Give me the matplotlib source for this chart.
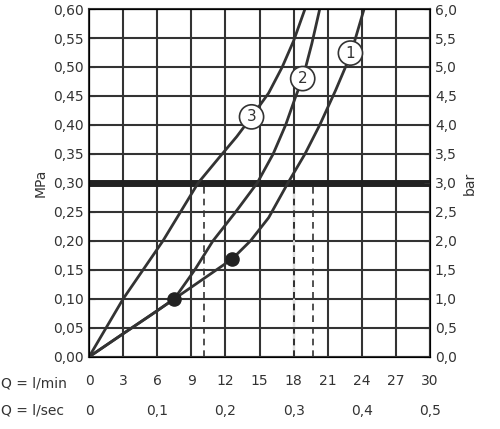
import matplotlib
matplotlib.use("Agg")
import matplotlib.pyplot as plt

# curve points (Q l/min, P MPa)
q1 = [0, 3, 5.5, 7.5, 9.5, 11.2, 12.6, 14.2, 15.8, 17.5, 19.0, 20.3, 21.7, 23.0, 24.2]
p1 = [0, 0.04, 0.073, 0.10, 0.127, 0.150, 0.169, 0.20, 0.24, 0.30, 0.35, 0.40, 0.46, 0.52, 0.60]
q2 = [0, 3, 5.5, 7.5, 9.3, 10.9, 12.9, 14.8, 16.2, 17.3, 18.2, 18.8, 19.6, 20.3]
p2 = [0, 0.04, 0.073, 0.10, 0.15, 0.20, 0.25, 0.30, 0.35, 0.40, 0.45, 0.48, 0.54, 0.60]
q3 = [0, 3, 6.5, 9.6, 11.5, 13.0, 14.3, 15.8, 17.0, 18.0, 19.0]
p3 = [0, 0.10, 0.20, 0.30, 0.345, 0.38, 0.414, 0.455, 0.50, 0.545, 0.60]
dots_q = [7.5, 12.6]
dots_p = [0.10, 0.169]
dashed_q = [10.1, 18.0, 19.7]
labels = [("1", 23.0, 0.524), ("2", 18.8, 0.48), ("3", 14.3, 0.414)]
lmin_ticks = [0, 3, 6, 9, 12, 15, 18, 21, 24, 27, 30]
lsec_labels = ["0", "0,1", "0,2", "0,3", "0,4", "0,5"]

ink = "#333333"
plt.rcParams["font.family"] = "DejaVu Sans"
fig = plt.figure(figsize=(5.0, 4.29), dpi=100)
ax = fig.add_axes([0.178, 0.168, 0.682, 0.811])
ax.set_xlim(0, 30)
ax.set_ylim(0, 0.6)

for q in lmin_ticks:
    ax.axvline(q, color=ink, lw=1.5, zorder=1)
for i in range(13):
    ax.axhline(i * 0.05, color=ink, lw=1.5, zorder=1)
ax.axhline(0.30, color="#222222", lw=5, zorder=3)
for q in dashed_q:
    if q in lmin_ticks:
        # dashed on top of a grid line: shows as white gaps
        ax.plot([q, q], [0, 0.30], color="white", lw=1.2, ls=(3, (3, 4)), zorder=2)
    else:
        ax.plot([q, q], [0, 0.30], color=ink, lw=1.2, ls=(0, (4, 3)), zorder=2)

for q, p in ((q1, p1), (q2, p2), (q3, p3)):
    ax.plot(q, p, color=ink, lw=2, zorder=4, solid_capstyle="round", solid_joinstyle="round")
ax.scatter(dots_q, dots_p, s=90, color="#222222", zorder=5)
for text, q, p in labels:
    ax.text(q, p, text, ha="center", va="center", fontsize=11, color=ink, zorder=6,
            bbox=dict(boxstyle="circle,pad=0.3", fc="white", ec=ink, lw=1.2))

ax.set_xticks(lmin_ticks)
ax.set_xticklabels([])
ax.tick_params(axis="x", length=0)
yt = [i * 0.05 for i in range(13)]
ax.set_yticks(yt)
ax.set_yticklabels([f"{v:.2f}".replace(".", ",") for v in yt], fontsize=10, color=ink)
ax.tick_params(axis="y", length=4, color=ink, direction="in")
for s in ax.spines.values():
    s.set_color(ink)
    s.set_linewidth(1.5)
ax.set_ylabel("MPa", fontsize=10, color=ink)

ax2 = ax.twinx()
ax2.set_ylim(0, 6)
ax2.set_yticks([i * 0.5 for i in range(13)])
ax2.set_yticklabels([f"{i * 0.5:.1f}".replace(".", ",") for i in range(13)], fontsize=10, color=ink)
ax2.tick_params(axis="y", length=4, color=ink, direction="in")
ax2.set_ylabel("bar", fontsize=10, color=ink)

trans = ax.get_xaxis_transform()
fig.text(0.002, 0.107, "Q = l/min", ha="left", va="center", fontsize=10, color=ink)
for q in lmin_ticks:
    ax.text(q, -0.07, str(q), transform=trans, ha="center", va="center", fontsize=10, color=ink)
fig.text(0.002, 0.044, "Q = l/sec", ha="left", va="center", fontsize=10, color=ink)
for i, lab in enumerate(lsec_labels):
    ax.text(i * 6, -0.155, lab, transform=trans, ha="center", va="center", fontsize=10, color=ink)

fig.savefig("out.png", dpi=100)
